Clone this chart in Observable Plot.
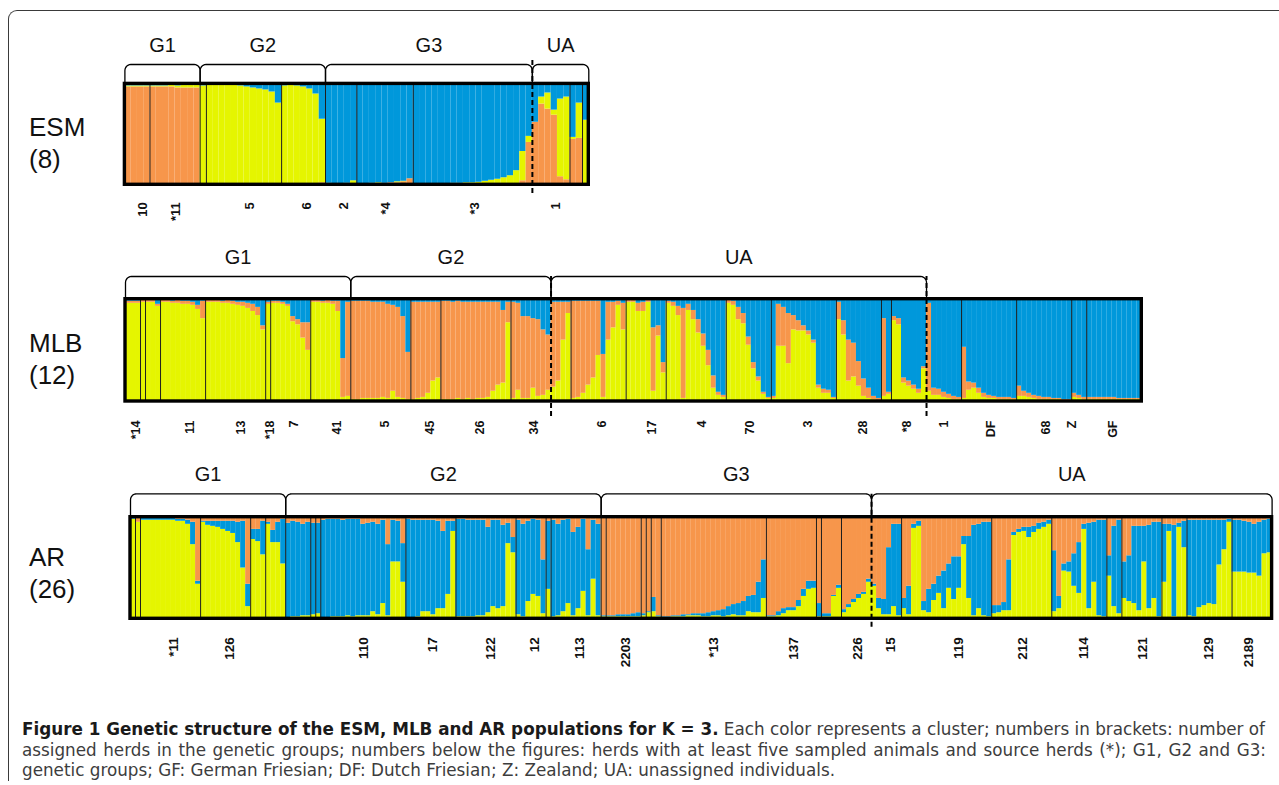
<!DOCTYPE html>
<html><head><meta charset="utf-8">
<script src="https://cdn.jsdelivr.net/npm/d3@7"></script>
<script src="https://cdn.jsdelivr.net/npm/@observablehq/plot@0.6"></script>
<style>
body{margin:0;background:#fff;}
#root{position:relative;width:1279px;height:785px;overflow:hidden;font-family:"Liberation Sans",Arial,sans-serif;}
.panel{position:absolute;left:0;}
.side{position:absolute;left:29px;font-size:26px;line-height:32px;color:#111;font-family:"Liberation Sans",Arial,sans-serif;}
#border{position:absolute;left:8px;top:10px;width:1400px;height:770px;border-top:1.5px solid #3a3a3a;border-left:1.5px solid #3a3a3a;border-top-left-radius:9px;}
.cap{position:absolute;left:22px;font-family:"DejaVu Sans",sans-serif;font-size:16.8px;line-height:20px;height:20px;color:#3d3d3d;white-space:nowrap;}
.cap b{color:#1a1a1a;}
.just{width:1244px;text-align:justify;text-align-last:justify;white-space:normal;overflow:hidden;}
</style></head><body>
<div id="root">
  <div id="border"></div>
  <div class="panel" id="esm" style="top:0px"></div>
  <div class="panel" id="mlb" style="top:235px"></div>
  <div class="panel" id="ar" style="top:455px"></div>
  <div class="side" style="top:111px">ESM<br>(8)</div>
  <div class="side" style="top:327px">MLB<br>(12)</div>
  <div class="side" style="top:541px">AR<br>(26)</div>
  <div class="cap" style="top:719px"><b>Figure 1 Genetic structure of the ESM, MLB and AR populations for K = 3.</b> Each color represents a cluster; numbers in brackets: number of</div>
  <div class="cap just" style="top:739.5px">assigned herds in the genetic groups; numbers below the figures: herds with at least five sampled animals and source herds (*); G1, G2 and G3:</div>
  <div class="cap" style="top:760px">genetic groups; GF: German Friesian; DF: Dutch Friesian; Z: Zealand; UA: unassigned individuals.</div>
</div>
<script>
// cluster keys: k1 = orange cluster, k2 = yellow cluster, k3 = blue cluster
const clusterKeys = ["k1", "k2", "k3"];
const clusterColors = ["#f7964b", "#e5f500", "#0098db"];

// ---------- ESM (74 individuals): orange bottom, yellow, blue remainder ----------
const esmOrange = [
  .97,.97,.97,.97,.97,.97,.97,.97,.96,.96,.96,.96,
  .01,.01,.01,.01,.01,.01,.01,.01,.01,.01,.01,.01,.01,.01,.01,.01,.01,.01,.01,.02,
  .005,0,0,.005,0,0,.01,.01,.01,.015,.02,.02,.03,.06,.005,.005,.005,.005,0,0,0,0,0,0,0,0,0,0,0,0,0,.04,.42,
  .62,.80,.75,.69,.08,.05,.45,.46,0
];
const esmYellow = [
  .01,.01,.01,.01,.01,.01,.01,.02,.02,.03,.03,.03,
  .97,.98,.98,.98,.98,.98,.97,.96,.95,.94,.93,.91,.80,.97,.98,.97,.96,.94,.89,.63,
  .01,.01,.01,.01,.04,.01,0,.005,.01,0,0,.01,.005,0,.005,.005,.005,.005,.01,.01,.015,.015,.02,.02,.025,.035,.045,.055,.07,.09,.14,.29,.06,
  0,.07,.16,.05,.77,.82,.02,.35,.64
];
const esmSeparators = [4,12,13,25,32,37,46,71,73];
const esmDashed = [65];
const esmGroups = ["G1","G2","G3","UA"];
const esmSpans = [[0,12],[12,32],[32,65],[65,74]];
const esmHerds = ["10","*11","5","6","2","*4","*3","1"];
const esmHerdPos = [2.8,8.1,19.9,29.1,34.9,41.6,55.8,68.7];

// ---------- MLB (203 individuals): yellow bottom, orange, blue remainder ----------
const mlbYellow = [
  .96,.96,.96, .97, .97,.97,.93, .97,.97,.96,.96,.95,.95,.94,.90,.81,
  .97,.97,.97,.96,.96,.95,.94,.93,.91,.88,.84,.70, .95,
  .96,.96,.95,.93,.78,.75,.62,.50, .97,.97,.96,.96,.95,.88,.04,.05,
  .02,.02,.03,.03,.03,.03,.04,.03,.10,.04,.03,.02,
  .02,.03,.04,.08,.20,.23,
  .02,.02,.02,.03,.02,.03,.02,.03,.03,.04,.10,.16,.18,.77,
  .03,.11,.03,.03,.13,.05,.06,.11,
  .14,.20,.60,.86,
  .03,.04,.08,.16,.23,.45,.04,.60,.72,.94,.70,
  .97,.97,.88,.88,.97,.10,.64,.28,
  .96,.93,.84,.03,.89,.80,.67,.54,.35,.13,.06,.04,
  .96,.94,.80,.76,.55,.32,.20,.07,.03,
  .03,.54,.54,.37,.70,.69,.69,.65,.57,.13,.08,.08,.03,
  .80,.65,.20,.24,.15,.05,.03,.02,.01,
  .05,.07,
  .79,.75,.18,.15,.12,.08,.32,
  .10,.06,.06,.04,.03,.02,.02,
  .03,.11,.13,.08,.04,.03,.03,.02,.02,.02,.02,
  .05,.05,.04,.03,.02,.02,.02,.02,.02,.01,.01,
  .04,.03,.02,
  .02,.02,.02,.02,.02,.02,.02,.02,.02,.02,.02
];
const mlbOrange = [
  .02,.02,.02, .02, .02,.02,.02, .02,.02,.02,.03,.03,.03,.03,.04,.17,
  .02,.02,.02,.02,.03,.03,.03,.04,.05,.07,.08,.04, .02,
  .02,.02,.02,.02,.05,.05,.15,.27, .02,.02,.02,.03,.03,.10,.38,.92,
  .96,.96,.95,.95,.94,.94,.93,.92,.84,.88,.80,.46,
  .95,.94,.93,.89,.77,.74,
  .96,.96,.95,.95,.95,.94,.95,.94,.94,.93,.87,.81,.71,.20,
  .94,.85,.80,.80,.68,.75,.64,.54,
  .83,.77,.37,.11,
  .95,.94,.90,.82,.75,.53,.42,.37,.25,.04,.26,
  .02,.02,.08,.09,.02,.62,.10,.10,
  .02,.04,.09,.88,.06,.09,.13,.12,.15,.12,.03,.02,
  .03,.04,.12,.10,.08,.06,.04,.02,.01,
  .02,.41,.38,.49,.14,.10,.05,.04,.03,.03,.04,.03,.01,
  .17,.14,.40,.33,.24,.17,.10,.03,.02,
  .76,.02,
  .04,.06,.05,.05,.04,.04,.02,
  .86,.07,.06,.05,.04,.03,.02,
  .50,.08,.05,.05,.04,.03,.02,.02,.02,.02,.01,
  .10,.05,.04,.03,.03,.02,.02,.01,.01,.01,.01,
  .04,.03,.02,
  .02,.02,.02,.02,.02,.02,.01,.01,.01,.01,.01
];
const mlbSeparators = [3,4,7,16,28,29,37,45,57,63,77,89,100,108,120,129,142,151,153,167,178,189,192];
const mlbDashed = [85,160];
const mlbGroups = ["G1","G2","UA"];
const mlbSpans = [[0,45],[45,85],[85,160]];
const mlbHerds = ["*14","11","13","*18","7","41","5","45","26","34","6","17","4","70","3","28","*8","1","DF","68","Z","GF"];
const mlbHerdPos = [2.0,12.8,23.0,28.8,33.6,42.3,51.8,60.9,70.9,81.6,95.2,105.2,115.1,124.8,136.4,147.3,156.1,163.5,172.8,183.9,189.1,197.2];

// ---------- AR (228 individuals): yellow bottom, blue, orange remainder ----------
const arYellow = [
  .98, .95, .97,.97,.97,.97,.97,.97,.97,.96,.96,.93,.73,.34,
  .95,.92,.91,.90,.88,.86,.84,.75,.50,.12,
  .78,.76,.63, .93,.75,.75,.54,
  .01,.02,.02,.03,.03, .04, .05,
  .01,.01,.02,.02,.02,.03,.02,.03,.03,.03,.07,.04,.15,.03,.56,.56,.36,
  .01,.01,.02,.07,.07,.04,.10,.10,.24,.86,
  .02,.02,.02,.02,.03,.03,.06,.12,.10,.12,.74,.65,
  .04,.02,.17,.24,.22,.05, .29,
  .02,.03,.07,.15,.03,.10,.27,.03,.39,.03,
  .02, .02,.02,.02,.02,.02,.02,.02, .03, .06, .07,.02,
  .01,.01,.02,.02,.02,.03,.03,.03,.02,.02,.03,.03,.02,.03,.04,.03,.03,.07,.06,.06,.20,
  .02,.02,.03,.05,.08,.08,.12,.22,.29,.30, .02, .02,.02,.22,.30, .06,.11,.16,.20,.24,.36,
  .32,.10,.04,.04,.12,.03,
  .10,.04,.89,.91,.08,.06,.18,.25,.10,.30,.19,.30,.73,.20,.03,.10,.03,.02,
  .05,.06,.08,.08,.82,.85,.86,.80,.85,.88,.90,.93,
  .07,.10,.47,.46,.32,.25,.88,.10,.36,.03,.02,
  .42,.12,.05,
  .20,.17,.15,.08,.56,.10,.20,.02,
  .36,.86,.02,.90,.70,
  .03,.02,.11,.13,.15,.14,.53,.68,.95,
  .46,.46,.46,.45,.45,.42,.64,.65
];
const arBlue = [
  .01, 0, .02,.02,.02,.02,.02,.02,.02,.02,.02,.04,.22,.03,
  .01,.04,.05,.06,.08,.10,.12,.20,.46,.22,
  .10,.12,.33, .02,.12,.20,.44,
  .93,.94,.93,.90,.92, .90, .89,
  .96,.97,.96,.96,.95,.95,.96,.95,.90,.91,.88,.89,.82,.70,.41,.40,.38,
  .97,.96,.95,.90,.90,.93,.86,.76,.72,.10,
  .96,.96,.95,.95,.94,.94,.84,.85,.87,.80,.20,.15,
  .93,.91,.79,.74,.75,.53, .67,
  .95,.90,.90,.83,.82,.80,.71,.65,.58,.90,
  .01, .01,.01,.02,.02,.02,.03,.04, .02, .01, .14,.01,
  .01,.01,.01,.01,.02,.01,.02,.02,.03,.04,.04,.05,.07,.09,.10,.12,.14,.15,.17,.30,.38,
  .01,.01,.04,.05,.03,.03,.06,.07,.08,.07, .13, .03,.03,.01,.03, .03,.03,.03,.04,.02,.03,
  .02,.10,.15,.66,.81,.90,
  .10,.28,.04,.05,.09,.23,.16,.17,.37,.24,.42,.31,.08,.61,.89,.83,.92,.93,
  .08,.07,.08,.50,.03,.03,.04,.10,.06,.06,.05,.04,
  .60,.12,.07,.10,.32,.50,.05,.84,.59,.94,.95,
  .20,.79,.92,
  .36,.45,.76,.83,.35,.82,.75,.93,
  .57,.07,.90,.04,.26,
  .94,.95,.86,.84,.82,.83,.44,.29,.03,
  .51,.51,.50,.50,.48,.53,.33,.33
];
const arSeparators = [1,2,14,24,27,31,36,37,38,55,65,77,83,84,94,95,102,103,104,106,127,137,138,142,154,172,184,195,198,206,211,220];
const arDashed = [148];
const arGroups = ["G1","G2","G3","UA"];
const arSpans = [[0,31],[31,94],[94,148],[148,228]];
const arHerds = ["*11","126","110","17","122","12","113","2203","*13","137","226","15","119","212","114","121","129","2189"];
const arHerdPos = [8.65,19.8,46.6,60.4,71.9,80.8,89.8,98.8,116.5,132.4,145.3,151.8,165.5,178.2,190.3,202.1,215.4,223.4];

const FONT = "Liberation Sans, Arial, sans-serif";

function buildPanel(cfg) {
  const {N, x0, x1, yb, yt, height, stack, seps, dashed, dashPx, groups, spans, bracketPx, herds, herdPos, herdDy, herdSize} = cfg;
  const kx = (x1 - x0) / N;
  const xd = px => (px - x0) / kx;
  const yd = px => (yb - px) / (yb - yt);
  const segs = [];
  for (let i = 0; i < N; i++) {
    let acc = 0;
    for (const [key, arr] of stack) {
      const v = arr ? arr[i] : Math.max(0, 1 - acc);
      if (v > 0) segs.push({i, key, y1: acc, y2: Math.min(1, acc + v)});
      acc += v;
    }
  }
  const r = 6;
  const br = [];
  spans.forEach(([s, e], g) => {
    const sx = x0 + s * kx, ex = x0 + e * kx, top = bracketPx;
    const pts = [[sx, yt]];
    for (let k = 0; k <= 6; k++) { const t = Math.PI - k * Math.PI / 12; pts.push([sx + r + r * Math.cos(t), top + r - r * Math.sin(t)]); }
    for (let k = 0; k <= 6; k++) { const t = Math.PI / 2 - k * Math.PI / 12; pts.push([ex - r + r * Math.cos(t), top + r - r * Math.sin(t)]); }
    pts.push([ex, yt]);
    pts.forEach(([px, py]) => br.push({g, x: xd(px), y: yd(py)}));
  });
  const groupData = groups.map((g, k) => ({g, c: (spans[k][0] + spans[k][1]) / 2}));
  const herdData = herds.map((h, k) => ({h, p: herdPos[k]}));
  return Plot.plot({
    width: 1279, height, margin: 0,
    style: {background: "transparent", overflow: "visible"},
    x: {type: "linear", domain: [0, N], range: [x0, x1], axis: null},
    y: {type: "linear", domain: [0, 1], range: [yb, yt], axis: null},
    color: {type: "ordinal", domain: clusterKeys, range: clusterColors},
    marks: [
      Plot.rect(segs, {x1: "i", x2: d => d.i + 1, y1: "y1", y2: "y2", fill: "key"}),
      Plot.ruleX(seps, {x: d => d, y1: () => 0, y2: () => 1, stroke: "#1e1e1e", strokeWidth: 1}),
      Plot.rect([{a: 0, b: N}], {x1: "a", x2: "b", y1: () => 0, y2: () => 1, fill: "none", stroke: "#000", strokeWidth: 3.4}),
      Plot.ruleX(dashed, {x: d => d, y1: () => yd(dashPx[1]), y2: () => yd(dashPx[0]), stroke: "#000", strokeWidth: 2, strokeDasharray: "5,3"}),
      Plot.line(br, {x: "x", y: "y", z: "g", stroke: "#000", strokeWidth: 1.3}),
      Plot.text(groupData, {x: "c", y: () => yd(bracketPx), dy: -19, text: "g", fontSize: 20, fill: "#111", fontFamily: FONT}),
      Plot.text(herdData, {x: "p", y: () => 0, dy: herdDy, text: "h", rotate: -90, textAnchor: "end", fontWeight: "bold", fontSize: herdSize, fill: "#111", fontFamily: FONT})
    ]
  });
}

document.getElementById("esm").appendChild(buildPanel({
  N: 74, x0: 124.4, x1: 588.3, yb: 184.3, yt: 83.4, height: 235,
  stack: [["k1", esmOrange], ["k2", esmYellow], ["k3", null]],
  seps: esmSeparators, dashed: esmDashed, dashPx: [57, 193],
  groups: esmGroups, spans: esmSpans, bracketPx: 64,
  herds: esmHerds, herdPos: esmHerdPos, herdDy: 17.5, herdSize: 13
}));
document.getElementById("mlb").appendChild(buildPanel({
  N: 203, x0: 125, x1: 1141.3, yb: 166, yt: 63.7, height: 220,
  stack: [["k2", mlbYellow], ["k1", mlbOrange], ["k3", null]],
  seps: mlbSeparators, dashed: mlbDashed, dashPx: [41, 181],
  groups: mlbGroups, spans: mlbSpans, bracketPx: 41,
  herds: mlbHerds, herdPos: mlbHerdPos, herdDy: 19, herdSize: 12.5
}));
document.getElementById("ar").appendChild(buildPanel({
  N: 228, x0: 130, x1: 1271.6, yb: 163.3, yt: 61.7, height: 230,
  stack: [["k2", arYellow], ["k3", arBlue], ["k1", null]],
  seps: arSeparators, dashed: arDashed, dashPx: [36.7, 171.7],
  groups: arGroups, spans: arSpans, bracketPx: 38.3,
  herds: arHerds, herdPos: arHerdPos, herdDy: 18.5, herdSize: 13.5
}));
</script>
</body></html>
